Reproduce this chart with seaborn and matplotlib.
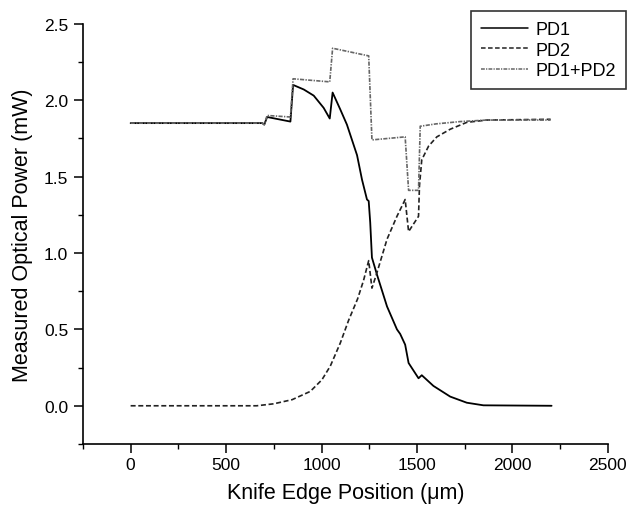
import numpy as np
import pandas as pd
import matplotlib
matplotlib.use("Agg")
import matplotlib.pyplot as plt
import seaborn as sns
from matplotlib.ticker import MultipleLocator

sns.set_style("ticks")
plt.rcParams['font.family'] = ['Liberation Sans', 'DejaVu Sans']
plt.rcParams.update({'text.color': 'black', 'axes.labelcolor': 'black'})

# values (knife edge position in um, power in mW)
pd1X = [0, 690, 700, 715, 837, 851, 907, 959, 1011, 1043, 1058, 1098, 1133, 1186,
        1212, 1238, 1247, 1255, 1264, 1290, 1343, 1395, 1412, 1438, 1456, 1508,
        1525, 1586, 1674, 1761, 1848, 2205]
pd1Y = [1.85, 1.85, 1.84, 1.89, 1.86, 2.10, 2.07, 2.03, 1.95, 1.88, 2.05, 1.94, 1.84, 1.64,
        1.48, 1.35, 1.34, 1.20, 0.97, 0.86, 0.65, 0.50, 0.47, 0.40, 0.28, 0.18,
        0.20, 0.13, 0.06, 0.02, 0.003, 0.0]

pd2X = [0, 660, 750, 846, 941, 1002, 1046, 1098, 1142, 1189, 1220, 1247, 1264, 1290,
        1343, 1395, 1438, 1456, 1508, 1513, 1525, 1561, 1604, 1674, 1761, 1866, 2200]
pd2Y = [0.0, 0.0, 0.013, 0.04, 0.094, 0.17, 0.26, 0.41, 0.56, 0.70, 0.82, 0.95, 0.77, 0.87,
        1.09, 1.24, 1.35, 1.14, 1.24, 1.44, 1.61, 1.70, 1.76, 1.81, 1.855, 1.87, 1.875]

sumX = [0, 690, 700, 715, 837, 851, 1043, 1058, 1247, 1264, 1438, 1456, 1508, 1517,
        1520, 1600, 1726, 1866, 2200]
sumY = [1.85, 1.85, 1.84, 1.90, 1.89, 2.14, 2.12, 2.34, 2.29, 1.74, 1.76, 1.41, 1.41, 1.83,
        1.83, 1.845, 1.86, 1.87, 1.87]

seriesNames = ["PD1", "PD2", "PD1+PD2"]

dfCurvas = pd.concat([
    pd.DataFrame({'x': pd1X, 'y': pd1Y, 'serie': seriesNames[0]}),
    pd.DataFrame({'x': pd2X, 'y': pd2Y, 'serie': seriesNames[1]}),
    pd.DataFrame({'x': sumX, 'y': sumY, 'serie': seriesNames[2]}),
], ignore_index=True)

fig = plt.figure(figsize=(6.28, 5.06), dpi=100)
ax = fig.add_axes([0.132, 0.1206, 0.836, 0.8304])

sns.lineplot(
    data=dfCurvas, x='x', y='y', hue='serie', style='serie',
    hue_order=seriesNames, style_order=seriesNames,
    palette={"PD1": "black", "PD2": "#222222", "PD1+PD2": "#666666"},
    dashes={"PD1": "", "PD2": (3, 1.6), "PD1+PD2": (2.5, 0.8, 0.8, 0.8)},
    sort=False, estimator=None, ax=ax, legend=True
)
for linha, largura in zip(ax.get_lines()[:3], [1.3, 1.2, 1.2]):
    linha.set_linewidth(largura)

ax.set_xlim(-250, 2500)
ax.set_ylim(-0.25, 2.5)
ax.xaxis.set_major_locator(MultipleLocator(500))
ax.xaxis.set_minor_locator(MultipleLocator(250))
ax.yaxis.set_major_locator(MultipleLocator(0.5))
ax.yaxis.set_minor_locator(MultipleLocator(0.25))
ax.yaxis.set_major_formatter(matplotlib.ticker.FormatStrFormatter('%.1f'))

sns.despine(ax=ax)
for lado in ['left', 'bottom']:
    ax.spines[lado].set_linewidth(1.2)
    ax.spines[lado].set_color('black')
ax.tick_params(which='major', length=6.5, width=1.1, direction='out', labelsize=12.5, colors='black', pad=3)
ax.tick_params(which='minor', length=3.5, width=1.0, direction='out', colors='black')
ax.tick_params(axis='y', pad=4)

ax.set_xlabel("Knife Edge Position (\u03bcm)", fontsize=15.5, labelpad=7)
ax.set_ylabel("Measured Optical Power (mW)", fontsize=15.5, labelpad=8)

handles, labels = ax.get_legend_handles_labels()
leg = ax.legend(handles, labels, loc='upper right', bbox_to_anchor=(626 / 628, 1 - 12 / 506),
                bbox_transform=fig.transFigure, borderaxespad=0, fontsize=13,
                frameon=True, fancybox=False, edgecolor='black', handlelength=2.6,
                labelspacing=0.2, borderpad=0.55, handletextpad=0.4)
leg.get_frame().set_linewidth(1.2)
for linha in leg.get_lines():
    linha.set_linewidth(1.1)

fig.savefig("out.png", dpi=100)
print("grafico gerado")
